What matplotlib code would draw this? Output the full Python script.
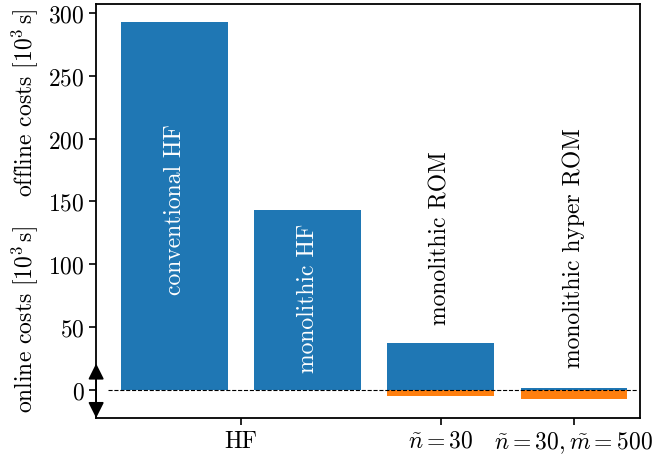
import numpy as np
import matplotlib.pyplot as plt

plt.rcParams['font.family'] = 'serif'
plt.rcParams['font.serif'] = ['cmr10']
plt.rcParams['mathtext.fontset'] = 'cm'
plt.rcParams['axes.formatter.use_mathtext'] = True
plt.rcParams['font.size'] = 17

# offline / online costs in 10^3 s
methods = ['conventional HF', 'monolithic HF', 'monolithic ROM', 'monolithic hyper ROM']
offline = [292.5, 143.5, 37.5, 1.8]
online = [0.0, 0.0, -5.0, -7.5]
xtick_pos = [0.5, 2, 3]
xtick_labels = ['HF', r'$\tilde{n}=30$', r'$\tilde{n}=30, \tilde{m}=500$']
label_y = [144, 74, 122, 114]
label_color = ['white', 'white', 'black', 'black']

fig = plt.figure(figsize=(6.54, 4.64), dpi=100)
ax = fig.add_axes([0.147, 0.097, 0.832, 0.892])

x = np.arange(len(methods))
ax.bar(x, offline, width=0.8, color='#1f77b4')
ax.bar(x, online, width=0.8, color='#ff7f0e')
ax.hlines(0, -0.5, 3.48, colors='k', linestyles='--', linewidth=0.8)

for xi, name, yl, c in zip(x, methods, label_y, label_color):
    ax.text(xi, yl, name, rotation=90, ha='center', va='center', color=c, fontsize=17)

ax.set_xlim(-0.59, 3.5)
ax.set_ylim(-22.3, 307)
ax.set_yticks(np.arange(0, 301, 50))
ax.set_xticks(xtick_pos)
ax.set_xticklabels(xtick_labels)
ax.tick_params(direction='out', length=5, width=1.2, labelsize=17)
for s in ax.spines.values():
    s.set_linewidth(1.3)

# double arrow separating offline (up) and online (down)
ax.annotate('', xy=(-0.59, 21), xytext=(-0.59, -22.3),
            arrowprops=dict(arrowstyle='<|-|>', color='k', lw=1.2,
                            mutation_scale=24, shrinkA=0, shrinkB=0),
            annotation_clip=False)

fig.text(0.038, 0.778, r'offline costs [$10^3\,\mathrm{s}$]', rotation=90, ha='center', va='center', fontsize=17)
fig.text(0.038, 0.312, r'online costs [$10^3\,\mathrm{s}$]', rotation=90, ha='center', va='center', fontsize=17)

fig.savefig('out.png', dpi=100)
